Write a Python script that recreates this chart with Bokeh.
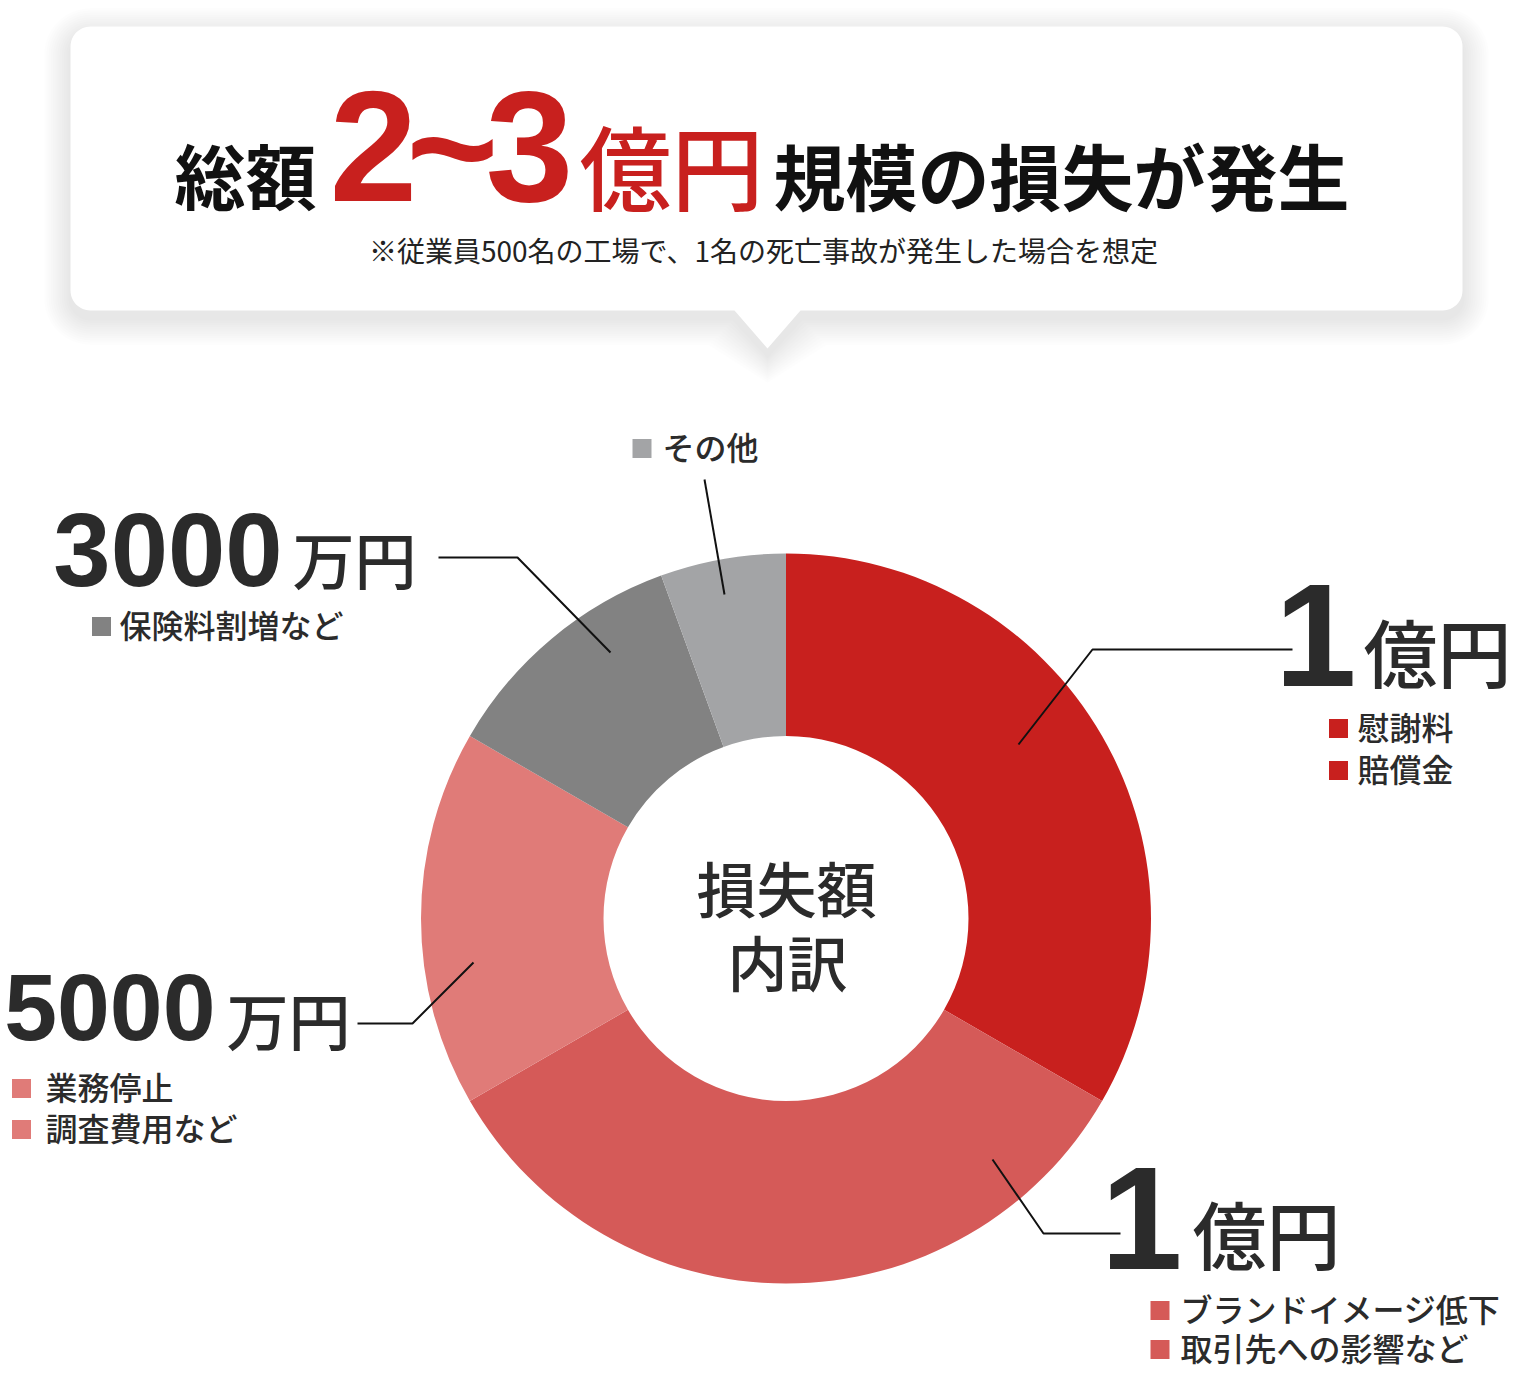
import math
from bokeh.plotting import figure
from bokeh.models import Range1d, ColumnDataSource
from bokeh.core.properties import value
from bokeh.embed import file_html
from bokeh.resources import INLINE

# ---------------- data ----------------
categories = ["慰謝料・賠償金", "ブランドイメージ低下・取引先への影響など",
              "業務停止・調査費用など", "保険料割増など", "その他"]
amount_num = ["1", "1", "5000", "3000", ""]
amount_unit = ["億円", "億円", "万円", "万円", ""]
share_deg = [120, 120, 60, 40, 20]          # ring share (degrees)
colors = ["#C8201E", "#D55A58", "#E07B78", "#828282", "#A3A4A6"]
details = [["慰謝料", "賠償金"], ["ブランドイメージ低下", "取引先への影響など"],
           ["業務停止", "調査費用など"], ["保険料割増など"], ["その他"]]

title_lead = "総額"
title_range = ["2", "~", "3"]
title_unit = "億円"
title_tail = "規模の損失が発生"
subtitle = "※従業員500名の工場で、1名の死亡事故が発生した場合を想定"
center_label = ["損失額", "内訳"]

# ---------------- layout helpers ----------------
W, H = 1512, 1372
def X(px): return px
def Y(py): return H - py
def YJ(py, size): return Y(py - 0.065 * size)   # optical centre of CJK glyphs

JP = value("Noto Sans CJK JP")
JPM = value("'Noto Sans CJK JP Medium', 'Noto Sans CJK JP', sans-serif")
NUM = value("'Liberation Sans', 'Noto Sans', sans-serif")
DARK = "#2B2B2B"
RED = "#C8201E"

p = figure(width=W, height=H, x_range=Range1d(0, W), y_range=Range1d(0, H),
           output_backend="svg", toolbar_location=None, min_border=0,
           x_axis_type=None, y_axis_type=None)
p.grid.visible = False
p.outline_line_color = None
p.background_fill_color = "white"
p.border_fill_color = "white"

# ---------------- speech box ----------------
def box_poly(l, t, r, b, rad, tri, n=12):
    pts = []
    def arc(cx, cy, a0, a1):
        for i in range(n + 1):
            a = math.radians(a0 + (a1 - a0) * i / n)
            pts.append((cx + rad * math.cos(a), cy + rad * math.sin(a)))
    arc(l + rad, t + rad, 180, 270)
    arc(r - rad, t + rad, 270, 360)
    arc(r - rad, b - rad, 0, 90)
    if tri:
        (bl, br, tx, ty) = tri
        pts += [(br, b), (tx, ty), (bl, b)]
    arc(l + rad, b - rad, 90, 180)
    xs = [X(a) for a, _ in pts]
    ys = [Y(c) for _, c in pts]
    return xs, ys

BL, BT, BR, BB, RAD = 70, 26, 1462, 310, 20
for i in range(12, 0, -1):
    e = i * 2.2
    xs, ys = box_poly(BL - e, BT - e + 8, BR + e, BB + e + 8, RAD + e,
                      (734 - e, 800 + e, 767, 348 + e + 8))
    p.patch(xs, ys, fill_color="black", fill_alpha=0.007, line_color=None)
xs, ys = box_poly(BL, BT, BR, BB, RAD, (734, 800, 767, 348))
p.patch(xs, ys, fill_color="white", line_color=None)

# title
p.text(x=[X(174)], y=[YJ(177, 71)], text=[title_lead], text_font=JP, text_font_size=value("71px"),
       text_font_style="bold", text_color="#111111", text_align="left", text_baseline="middle")
for cx, t in zip([373, 452, 529], title_range):
    p.text(x=[X(cx)], y=[Y(146)], text=[t], text_font=NUM, text_font_size=value("158px"),
           text_font_style="bold", text_color=RED, text_align="center", text_baseline="middle")
p.text(x=[X(579)], y=[YJ(169, 92)], text=[title_unit], text_font=JPM, text_font_size=value("92px"),
       text_color=RED, text_align="left", text_baseline="middle")
p.text(x=[X(773)], y=[YJ(178, 72)], text=[title_tail], text_font=JP, text_font_size=value("72px"),
       text_font_style="bold", text_color="#111111", text_align="left", text_baseline="middle")
p.text(x=[X(763)], y=[YJ(251, 28)], text=[subtitle], text_font=JP, text_font_size=value("28px"),
       text_color="#222222", text_align="center", text_baseline="middle")

# ---------------- donut ----------------
starts, ends, acc = [], [], 0
for d in share_deg:
    starts.append(math.pi / 2 - math.radians(acc))
    acc += d
    ends.append(math.pi / 2 - math.radians(acc))
src = ColumnDataSource(dict(start=starts, end=ends, color=colors, cat=categories))
p.annular_wedge(x=X(785.5), y=Y(918), inner_radius=182.5, outer_radius=365,
                start_angle="start", end_angle="end", direction="clock",
                fill_color="color", line_color=None, source=src)

p.text(x=[X(786), X(787)], y=[YJ(890, 60), YJ(964, 60)], text=center_label, text_font=JPM,
       text_font_size=value("60px"), text_color=DARK, text_align="center", text_baseline="middle")

# ---------------- leader lines ----------------
leaders = [
    [(1292, 649), (1092, 649), (1018, 744)],
    [(1120, 1233), (1043, 1233), (992, 1159)],
    [(357, 1023), (412, 1023), (473, 962)],
    [(438, 557), (517, 557), (610, 652)],
    [(704, 479), (724, 594)],
]
p.multi_line(xs=[[X(a) for a, _ in L] for L in leaders],
             ys=[[Y(b) for _, b in L] for L in leaders],
             line_color="#111111", line_width=2)

# ---------------- labels ----------------
# (num right x, num centre y, num size, unit left x, unit centre y, unit size)
amount_pos = [
    (1356, 634, 147, 1363, 654, 74),
    (1182, 1217, 147, 1192, 1236, 74),
    (215, 1006, 95, 226, 1023, 62),
    (282, 549, 103, 292, 562, 62),
]
for i, (nx, ny, ns, ux, uy, us) in enumerate(amount_pos):
    p.text(x=[X(nx)], y=[Y(ny)], text=[amount_num[i]], text_font=NUM,
           text_font_size=value(f"{ns}px"), text_font_style="bold", text_color=DARK,
           text_align="right", text_baseline="middle")
    p.text(x=[X(ux)], y=[YJ(uy, us)], text=[amount_unit[i]], text_font=JPM,
           text_font_size=value(f"{us}px"), text_color=DARK,
           text_align="left", text_baseline="middle")

# detail rows: (square centre x, text left x, first row y, row step)
detail_pos = [
    (1338, 1357, 728, 42),
    (1159.5, 1180, 1310, 39),
    (21, 45, 1088, 41),
    (101, 119, 626, 0),
    (641.5, 662, 448, 0),
]
for i, (sx, tx, y0, step) in enumerate(detail_pos):
    for j, line in enumerate(details[i]):
        yy = y0 + j * step
        p.scatter(x=[X(sx)], y=[Y(yy)], marker="square", size=19,
                  fill_color=colors[i], line_color=None)
        p.text(x=[X(tx)], y=[YJ(yy, 32)], text=[line], text_font=JPM, text_font_size=value("32px"),
               text_color=DARK, text_align="left", text_baseline="middle")

open("out.html", "w").write(file_html(p, INLINE))
